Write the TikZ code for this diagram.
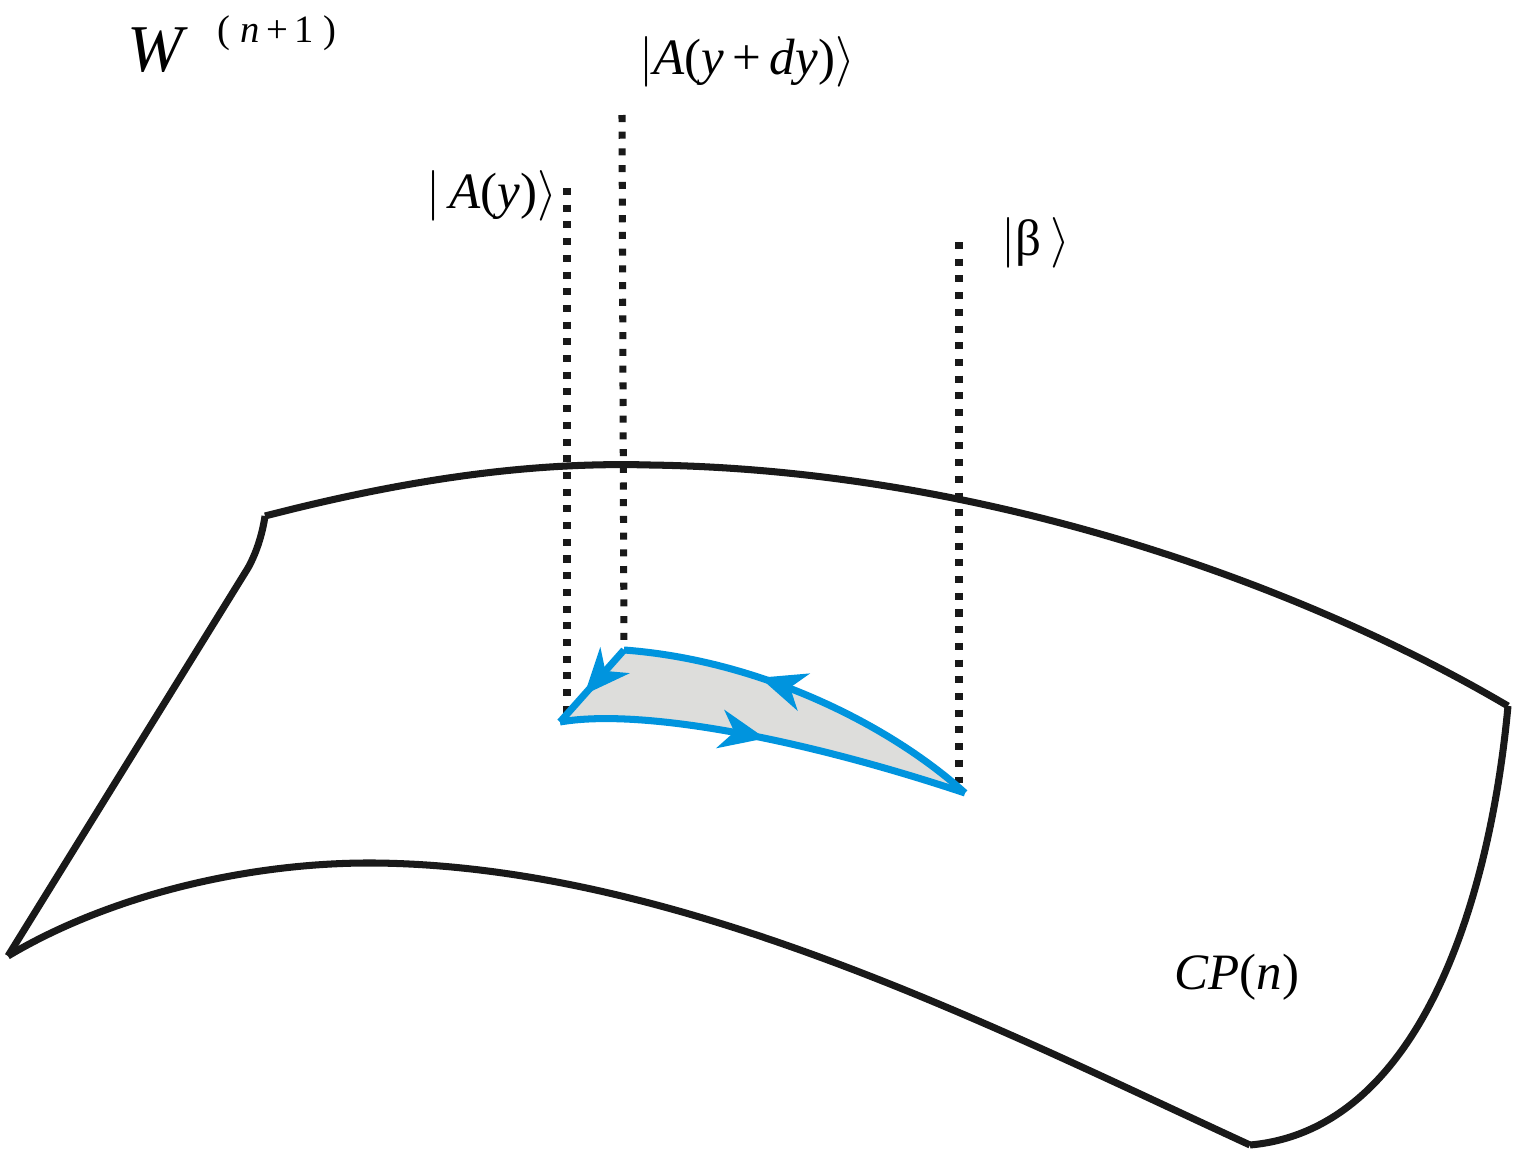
\documentclass[tikz,border=0pt]{standalone}
\usepackage{fontspec}
\setmainfont{Liberation Serif}
\usetikzlibrary{arrows.meta,decorations.markings}
\definecolor{loopblue}{RGB}{0,148,222}
\definecolor{loopgrey}{RGB}{221,221,219}
\begin{document}
\begin{tikzpicture}[x=0.01cm, y=-0.01cm,
  rim/.style={line width=2pt, draw=black!90},
  fibre/.style={line width=2pt, dash pattern=on 2pt off 2.75pt, draw=black!90},
  loopedge/.style={line width=2pt, loopblue},
  midarrow/.style={postaction={decorate}, decoration={markings, mark=at position #1 with {\arrow{Stealth[length=13pt,width=11pt,inset=4pt]}}}},
  ket/.style={inner sep=0pt, font=\fontsize{14.5}{16}\selectfont}]
  \useasboundingbox (0,0) rectangle (1514,1154);
  \coordinate (tl) at (265,516);
  \coordinate (tr) at (1508,706);
  \coordinate (bl) at (8,956);
  \coordinate (br) at (1250,1145);
  \coordinate (a) at (560,722);
  \coordinate (b) at (624,650);
  \coordinate (c) at (965,793);
  \node[inner sep=0pt, font=\fontsize{19}{22}\selectfont\itshape] (w) at (155,50) {W};
  \node[inner sep=0pt, font=\fontsize{11}{13}\selectfont] (dim) at (277,33) {( \textit{n}\,+\,1 )};
  \node[ket] (ady) at (747,62) {$\big|$\textit{A}(\textit{y}\,+\,\textit{dy})$\big\rangle$};
  \node[ket] (ay) at (492,196) {$\big|$\,\textit{A}(\textit{y})$\big\rangle$};
  \node[ket] (beta) at (1036,243) {$\big|$β\,$\big\rangle$};
  \node[ket] (cpn) at (1237,977) {\textit{CP}(\textit{n})};
  \coordinate (ay-top) at (567,188);
  \coordinate (ay-foot) at (567,718);
  \coordinate (ady-top) at (622,115);
  \coordinate (beta-top) at (959,242);
  \coordinate (beta-foot) at (959,783);
  \draw[rim] (tl) .. controls (263,530) and (258,550) .. (248,568) -- (bl);
  \draw[rim] (tl) .. controls (420,476) and (540,462) .. (650,465) .. controls (1000,470) and (1320,595) .. (tr);
  \draw[rim] (bl) .. controls (110,895) and (250,862) .. (375,863) .. controls (680,866) and (1000,1030) .. (br);
  \draw[rim] (br) .. controls (1420,1130) and (1490,900) .. (tr);
  \fill[loopgrey] (a) .. controls (640,708) and (800,738) .. (c) .. controls (890,725) and (760,660) .. (b) -- cycle;
  \draw[fibre] (ay-top) -- (ay-foot);
  \draw[fibre] (ady-top) -- (b);
  \draw[fibre] (beta-top) -- (beta-foot);
  \draw[loopedge, midarrow=0.5] (a) .. controls (640,708) and (800,738) .. (c);
  \draw[loopedge, midarrow=0.63] (c) .. controls (890,725) and (760,660) .. (b);
  \draw[loopedge, midarrow=0.62] (b) -- (a);
\end{tikzpicture}
\end{document}
